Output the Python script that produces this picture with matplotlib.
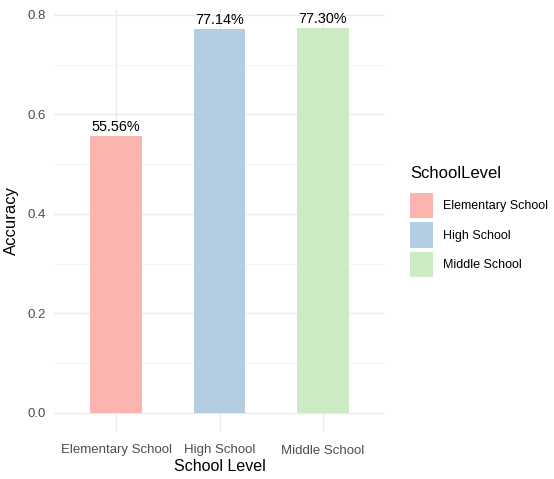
import matplotlib
matplotlib.use("Agg")
from matplotlib import pyplot as plt
from matplotlib.patches import Patch
import numpy as np

plt.rcParams['font.family'] = ['Liberation Sans', 'DejaVu Sans']

levels = ["Elementary School", "High School", "Middle School"]
accuracy = [0.5556, 0.7714, 0.7730]
colors = ["#FBB4AE", "#B3CDE3", "#CCEBC5"]

fig = plt.figure(figsize=(5.54, 4.79), dpi=100)
W, H = 554, 479
# panel placed in pixel units
left, right, top, bottom = 54, 385, 9, 432
ax = fig.add_axes([left / W, (H - bottom) / H, (right - left) / W, (bottom - top) / H])

x = np.arange(1, len(levels) + 1)
ax.bar(x, accuracy, width=0.5, color=colors, zorder=2)
for xi, v in zip(x, accuracy):
    ax.text(xi, v + 0.004, f"{v * 100:.2f}%", ha="center", va="bottom",
            fontsize=10.4, color="black", zorder=3)

ymax = max(accuracy)
ax.set_xlim(0.4, 3.6)
ax.set_ylim(-0.05 * ymax, ymax * 1.05)
ax.set_xticks(x)
ax.set_xticklabels(levels)
ax.set_yticks([0.0, 0.2, 0.4, 0.6, 0.8])
ax.set_yticklabels(["0.0", "0.2", "0.4", "0.6", "0.8"])
ax.set_yticks([0.1, 0.3, 0.5, 0.7], minor=True)

ax.grid(True, which="major", color="#EBEBEB", linewidth=1.0, zorder=0)
ax.grid(True, which="minor", axis="y", color="#F3F3F3", linewidth=0.6, zorder=0)
for s in ax.spines.values():
    s.set_visible(False)
ax.tick_params(axis="both", which="both", length=0, labelsize=9.5, labelcolor="#4D4D4D")
ax.tick_params(axis="x", pad=9)
ax.tick_params(axis="y", pad=6)

ax.set_xlabel("School Level", fontsize=11.5, labelpad=2)
ax.set_ylabel("Accuracy", fontsize=12, labelpad=6)

# legend: title as separate text, keys stacked below
fig.text(410 / W, 1 - 174 / H, "SchoolLevel", fontsize=12, ha="left", va="center")
handles = [Patch(facecolor=c, edgecolor="none") for c in colors]
fig.legend(handles, levels, loc="upper left",
           bbox_to_anchor=(410 / W, 1 - 193 / H), frameon=False,
           fontsize=9, handlelength=1.85, handleheight=2.75,
           handletextpad=0.8, labelspacing=0.32, borderpad=0, borderaxespad=0)

fig.savefig("out.png", dpi=100)
